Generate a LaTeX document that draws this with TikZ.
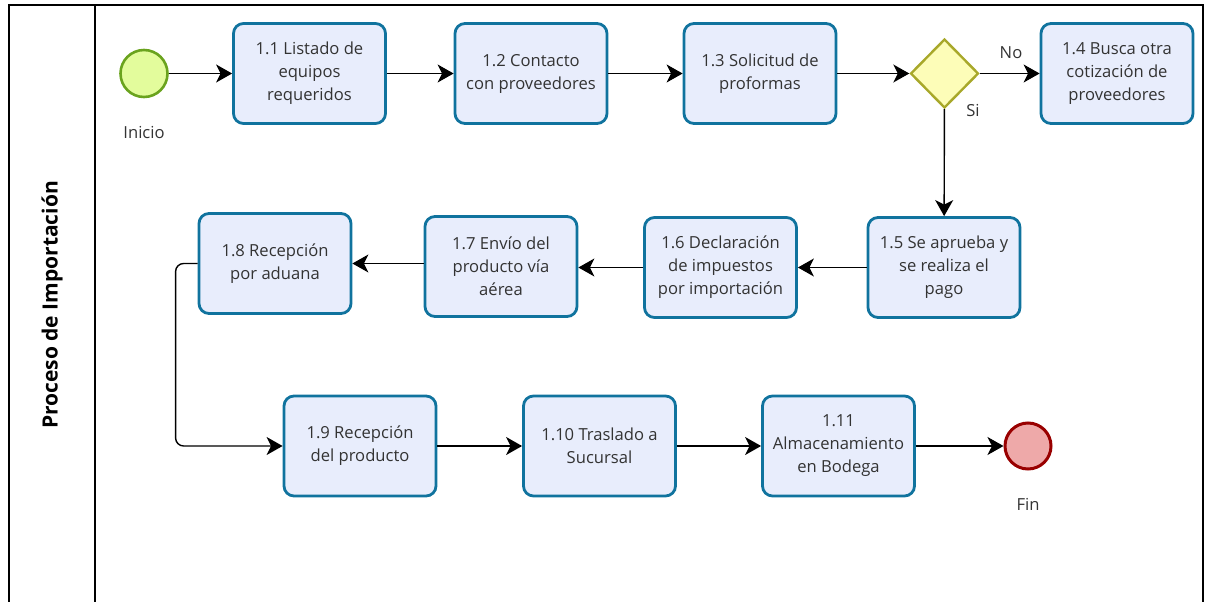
\documentclass[tikz,border=0pt]{standalone}
\usepackage{fontspec}
\setmainfont{Open Sans}
\usetikzlibrary{arrows.meta,shapes.geometric}
\definecolor{taskline}{HTML}{10739E}
\definecolor{taskfill}{HTML}{E8EDFC}
\definecolor{startline}{HTML}{6AA31E}
\definecolor{startfill}{HTML}{E3FC9C}
\definecolor{endline}{HTML}{990000}
\definecolor{endfill}{HTML}{EEA9A9}
\definecolor{gateline}{HTML}{A8A82A}
\definecolor{gatefill}{HTML}{FDFDB8}
\definecolor{txt}{HTML}{333333}
\begin{document}
\begin{tikzpicture}[x=1pt,y=-1pt,
  every node/.style={font=\fontsize{16.6}{23}\selectfont, text=txt},
  task/.style={draw=taskline, fill=taskfill, line width=2.8pt, rounded corners=10pt,
    minimum width=152pt, minimum height=100pt, align=center, inner sep=2pt},
  startev/.style={circle, draw=startline, fill=startfill, line width=2.6pt, minimum size=47pt, inner sep=0pt},
  endev/.style={circle, draw=endline, fill=endfill, line width=3pt, minimum size=46pt, inner sep=0pt},
  gateway/.style={diamond, draw=gateline, fill=gatefill, line width=2.4pt, minimum width=68pt, minimum height=69pt, inner sep=0pt},
  flow/.style={draw=black, line width=1.4pt, -{Stealth[length=16pt, width=18pt, inset=4.5pt]}},
  lbl/.style={inner sep=0pt}
]
\useasboundingbox (0,0) rectangle (1210,602);

% pool and lane
\draw[line width=1.5pt] (9,602) -- (9,5) -- (1203,5) -- (1203,602);
\draw[line width=1.5pt] (95,5) -- (95,602);
\node[rotate=90, font=\bfseries\fontsize{21}{24}\selectfont, text=black] (lane) at (52,305) {Proceso de Importación};

% events and gateway
\node[startev] (ini) at (144,73.5) {};
\node[lbl] (inilbl) at (144,132) {Inicio};
\node[endev] (fin) at (1028,446) {};
\node[lbl] (finlbl) at (1028,504) {Fin};
\node[gateway] (gw) at (944.5,73.5) {};
\node[lbl] (no) at (1011,53) {No};
\node[lbl] (si) at (973,110) {Si};

% tasks
\node[task] (t11) at (309.5,73.5) {1.1 Listado de\\equipos\\requeridos};
\node[task] (t12) at (531,73.5) {1.2 Contacto\\con proveedores};
\node[task] (t13) at (760,73.5) {1.3 Solicitud de\\proformas};
\node[task] (t14) at (1117,73.5) {1.4 Busca otra\\cotización de\\proveedores};
\node[task] (t15) at (944,267.5) {1.5 Se aprueba y\\se realiza el\\pago};
\node[task] (t16) at (720.5,267.5) {1.6 Declaración\\de impuestos\\por importación};
\node[task] (t17) at (501,266.5) {1.7 Envío del\\producto vía\\aérea};
\node[task] (t18) at (275,263.5) {1.8 Recepción\\por aduana};
\node[task] (t19) at (360,446) {1.9 Recepción\\del producto};
\node[task] (t110) at (599.5,446) {1.10 Traslado a\\Sucursal};
\node[task] (t111) at (838.5,446) {1.11\\Almacenamiento\\en Bodega};

% sequence flows
\draw[flow] (ini) -- (t11);
\draw[flow] (t11) -- (t12);
\draw[flow] (t12) -- (t13);
\draw[flow] (t13) -- (gw);
\draw[flow] (gw) -- (t14);
\draw[flow] (gw) -- (t15);
\draw[flow] (t15) -- (t16);
\draw[flow] (t16.west |- 0,267.5) -- (t17.east |- 0,267.5);
\draw[flow] (t17.west |- 0,263.5) -- (t18.east |- 0,263.5);
\draw[flow, rounded corners=8pt] (t18.west) -- ++(-22,0) |- (t19.west);
\draw[flow] (t19) -- (t110);
\draw[flow] (t110) -- (t111);
\draw[flow] (t111) -- (fin);
\end{tikzpicture}
\end{document}
